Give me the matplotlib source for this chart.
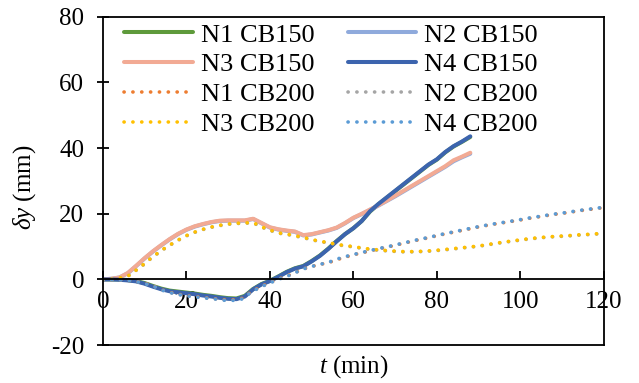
import matplotlib
matplotlib.use('Agg')
import matplotlib.pyplot as plt

plt.rcParams['font.family'] = ['Liberation Serif', 'DejaVu Serif']
plt.rcParams['mathtext.fontset'] = 'custom'
plt.rcParams['mathtext.it'] = 'Liberation Serif:italic'
plt.rcParams['mathtext.rm'] = 'Liberation Serif'
plt.rcParams['axes.unicode_minus'] = False

# time (min)
t150 = [0, 2, 4, 6, 8, 10, 12, 14, 16, 18, 20, 22, 24, 26, 28, 30, 32, 34, 36, 38, 40,
        42, 44, 46, 48, 50, 52, 54, 56, 58, 60, 62, 64, 66, 68, 70, 72, 74, 76, 78, 80,
        82, 84, 86, 88]
t200 = [0, 3, 6, 9, 12, 15, 18, 21, 24, 27, 30, 33, 36, 39, 42, 45, 48, 51, 54, 57, 60,
        63, 66, 69, 72, 75, 78, 81, 84, 87, 90, 93, 96, 99, 102, 105, 108, 111, 114, 117, 120]

# displacement dy (mm)
n1_cb150 = [0, 0, 0, -0.2, -0.5, -1.1, -2.0, -2.8, -3.4, -3.7, -4.0, -4.3, -4.7, -5.0, -5.4,
            -5.7, -5.8, -5.0, -2.9, -1.4, -0.4, 0.9, 2.3, 3.4, 4.1, 5.6, 7.3, 9.4, 11.7,
            13.8, 15.6, 17.8, 20.7, 22.9, 24.9, 26.9, 28.9, 30.9, 32.9, 34.9, 36.5, 38.7,
            40.5, 41.9, 43.4]
n2_cb150 = [0, 0.2, 0.6, 1.9, 4.1, 6.4, 8.5, 10.4, 12.2, 13.8, 15.1, 16.1, 16.8, 17.4, 17.8,
            17.9, 17.9, 17.9, 18.4, 17.1, 15.8, 15.2, 14.8, 14.5, 13.4, 13.7, 14.3, 14.9,
            15.7, 17.1, 18.7, 19.9, 21.2, 22.5, 23.9, 25.3, 26.8, 28.3, 29.8, 31.3, 32.8,
            34.3, 36.0, 37.2, 38.3]
n3_cb150 = [0, 0.2, 0.6, 2.0, 4.2, 6.5, 8.6, 10.5, 12.3, 13.9, 15.2, 16.2, 16.9, 17.5, 17.9,
            18.0, 18.0, 18.0, 18.5, 17.2, 15.9, 15.3, 14.9, 14.6, 13.5, 13.8, 14.4, 15.0,
            15.8, 17.2, 18.8, 20.0, 21.3, 22.6, 24.0, 25.5, 27.0, 28.5, 30.0, 31.5, 33.0,
            34.5, 36.3, 37.4, 38.6]
n4_cb150 = [0, 0, -0.1, -0.3, -0.6, -1.3, -2.2, -3.0, -3.6, -3.9, -4.2, -4.5, -4.9, -5.2,
            -5.6, -5.9, -6.0, -5.2, -3.0, -1.5, -0.5, 0.8, 2.2, 3.3, 4.0, 5.5, 7.2, 9.3, 11.6,
            13.8, 15.6, 17.8, 20.8, 23.0, 25.0, 27.0, 29.0, 31.0, 33.0, 35.0, 36.6, 38.8,
            40.6, 42.0, 43.6]

n1_cb200 = [0, -0.1, -0.3, -0.8, -1.9, -3.6, -4.5, -5.1, -5.5, -5.9, -6.3, -6.0, -3.4,
            -1.5, 0.1, 1.5, 3.2, 4.3, 5.1, 6.4, 7.5, 8.4, 9.3, 10.1, 11.0, 11.9, 12.7, 13.6,
            14.4, 15.2, 16.0, 16.7, 17.3, 17.9, 18.6, 19.2, 19.8, 20.3, 20.9, 21.4, 21.9]
n2_cb200 = [0, 0.1, 1.0, 3.7, 6.9, 9.6, 11.9, 13.9, 15.2, 16.2, 16.8, 17.1, 17.2, 15.4,
            14.1, 13.5, 12.7, 11.8, 11.1, 10.4, 9.9, 9.3, 8.9, 8.6, 8.4, 8.4, 8.6, 8.9, 9.3,
            9.7, 10.1, 10.7, 11.3, 11.8, 12.3, 12.7, 13.0, 13.2, 13.5, 13.7, 14.0]
n3_cb200 = [0, 0.1, 1.0, 3.8, 7.0, 9.7, 12.0, 14.0, 15.3, 16.3, 16.9, 17.2, 17.3, 15.5,
            14.2, 13.6, 12.8, 11.9, 11.2, 10.5, 10.0, 9.4, 9.0, 8.7, 8.5, 8.5, 8.7, 9.0, 9.4,
            9.8, 10.2, 10.8, 11.4, 11.9, 12.4, 12.8, 13.1, 13.3, 13.6, 13.8, 14.1]
n4_cb200 = [0, -0.1, -0.3, -0.9, -2.0, -3.7, -4.6, -5.2, -5.6, -6.0, -6.5, -6.2, -3.5,
            -1.6, 0.0, 1.4, 3.2, 4.3, 5.2, 6.6, 7.6, 8.5, 9.4, 10.2, 11.1, 12.0, 12.8, 13.7,
            14.5, 15.3, 16.1, 16.8, 17.4, 18.0, 18.7, 19.3, 19.9, 20.4, 21.0, 21.5, 22.0]

fig = plt.figure(figsize=(6.39, 3.83), dpi=100)
ax = fig.add_axes([0.161, 0.099, 0.784, 0.857])

lw = 2.9
h = {}
h['N1 CB150'], = ax.plot(t150, n1_cb150, color='#5E9A3B', lw=lw, solid_capstyle='round')
h['N2 CB150'], = ax.plot(t150, n2_cb150, color='#8FAADC', lw=lw, solid_capstyle='round')
h['N3 CB150'], = ax.plot(t150, n3_cb150, color='#F2AA94', lw=lw, solid_capstyle='round')
h['N4 CB150'], = ax.plot(t150, n4_cb150, color='#3C64AE', lw=lw, solid_capstyle='round')

dot = (0, (0.05, 2.4))
dlw = 2.6
h['N1 CB200'], = ax.plot(t200, n1_cb200, color='#ED7D31', lw=dlw, ls=dot, dash_capstyle='round')
h['N2 CB200'], = ax.plot(t200, n2_cb200, color='#A5A5A5', lw=dlw, ls=dot, dash_capstyle='round')
h['N3 CB200'], = ax.plot(t200, n3_cb200, color='#FFC000', lw=dlw, ls=dot, dash_capstyle='round')
h['N4 CB200'], = ax.plot(t200, n4_cb200, color='#5B9BD5', lw=dlw, ls=dot, dash_capstyle='round')

ax.set_xlim(0, 120)
ax.set_ylim(-20, 80)
ax.set_xticks(range(0, 121, 20))
ax.set_yticks(range(-20, 81, 20))

for s in ax.spines.values():
    s.set_linewidth(1.3)
ax.spines['bottom'].set_position(('data', 0))
ax.axhline(-20, color='k', lw=1.3, clip_on=False)

ax.tick_params(axis='x', direction='in', length=6, width=1.3, labelsize=18, pad=8)
ax.tick_params(axis='y', direction='inout', length=9, width=1.3, labelsize=18, pad=9)

ax.set_xlabel('$t$ (min)', fontsize=18)
ax.xaxis.set_label_coords(0.5, -0.025)
ax.set_ylabel(r'$\delta y$ (mm)', fontsize=18)
ax.yaxis.set_label_coords(-0.13, 0.48)

# legend filled row by row, as in the original
order = ['N1 CB150', 'N3 CB150', 'N1 CB200', 'N3 CB200',
         'N2 CB150', 'N4 CB150', 'N2 CB200', 'N4 CB200']
ax.legend([h[k] for k in order], order, ncol=2, loc='upper left',
          bbox_to_anchor=(0.022, 1.013), frameon=False,
          fontsize=19, handlelength=2.6, handletextpad=0.3, columnspacing=1.25,
          labelspacing=0.24, borderaxespad=0.1, borderpad=0.3)

fig.savefig('out.png', dpi=100)
